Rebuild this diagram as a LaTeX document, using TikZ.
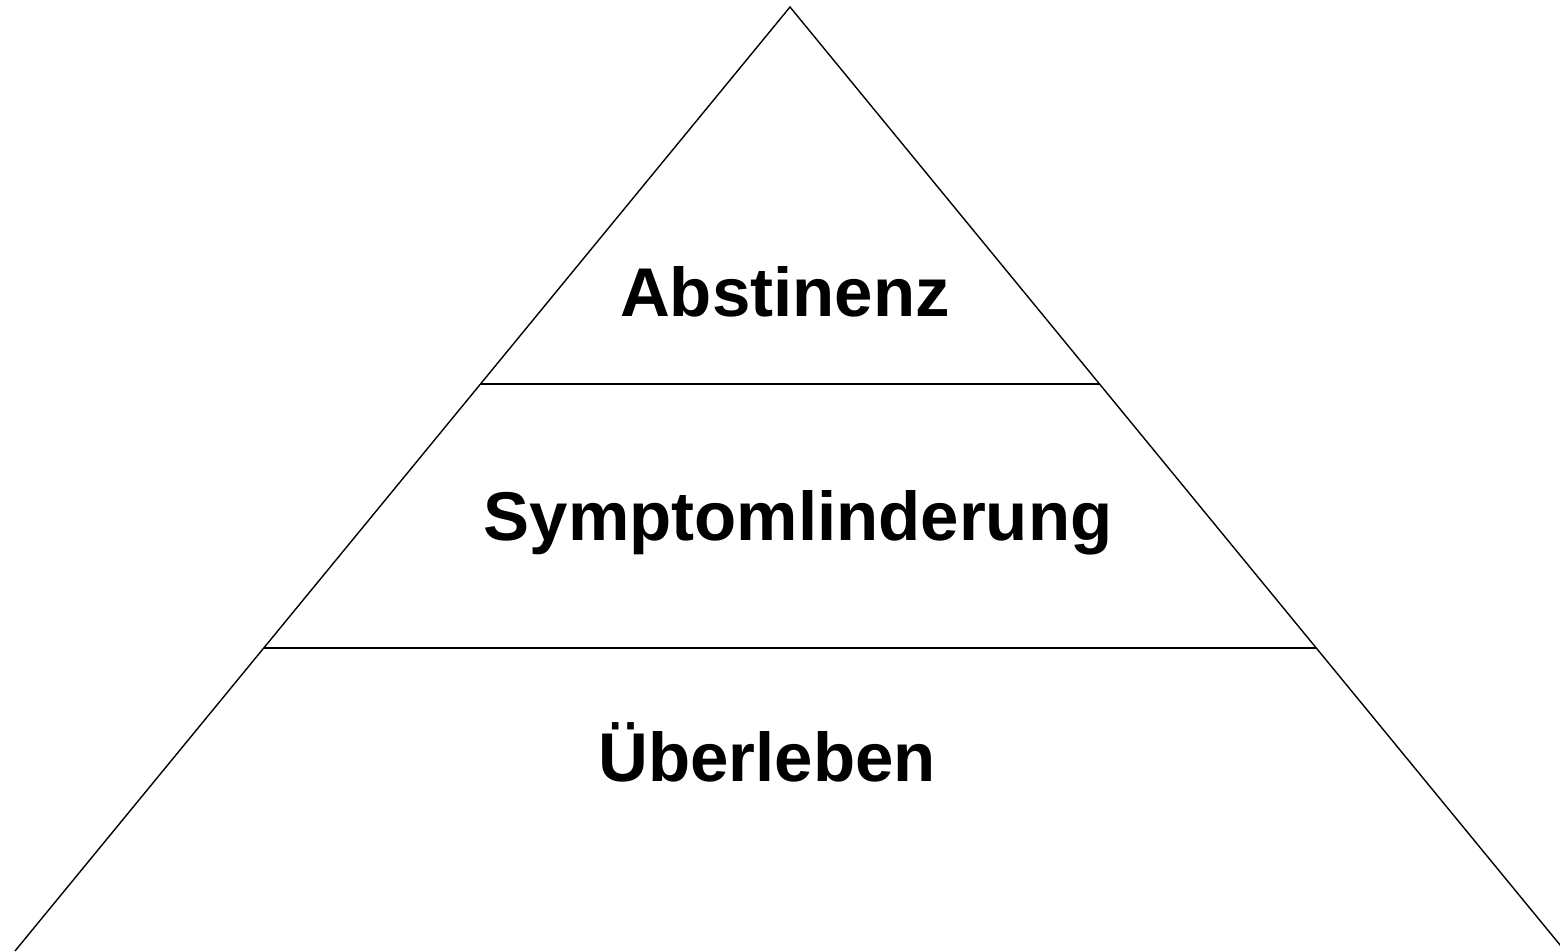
\documentclass[tikz,border=0pt]{standalone}
\usepackage{fontspec}
\setmainfont{Liberation Sans}
\usetikzlibrary{calc}
\tikzset{
  edge/.style={draw=black, line width=1.4pt, line join=miter},
  label/.style={font=\fontsize{69}{80}\selectfont\bfseries, anchor=base, inner sep=0pt}
}
\begin{document}
\begin{tikzpicture}[x=1pt,y=1pt]
  \useasboundingbox (0,0) rectangle (1560,951);
  \clip (0,0) rectangle (1560,951);
  \coordinate (apex) at (790,944);
  \coordinate (bl) at (15,0);
  \coordinate (br) at (1565,0);
  \coordinate (l1) at ($(apex)!0.3994!(bl)$);
  \coordinate (r1) at ($(apex)!0.3994!(br)$);
  \coordinate (l2) at ($(apex)!0.679!(bl)$);
  \coordinate (r2) at ($(apex)!0.679!(br)$);
  \draw[edge] (bl) -- (apex) -- (br);
  \draw[edge] (l1) -- (r1);
  \draw[edge] (l2) -- (r2);
  \node[label] (top) at (785,634) {Abstinenz};
  \node[label] (mid) at (798,410) {Symptomlinderung};
  \node[label] (bot) at (767,170) {Überleben};
\end{tikzpicture}
\end{document}
